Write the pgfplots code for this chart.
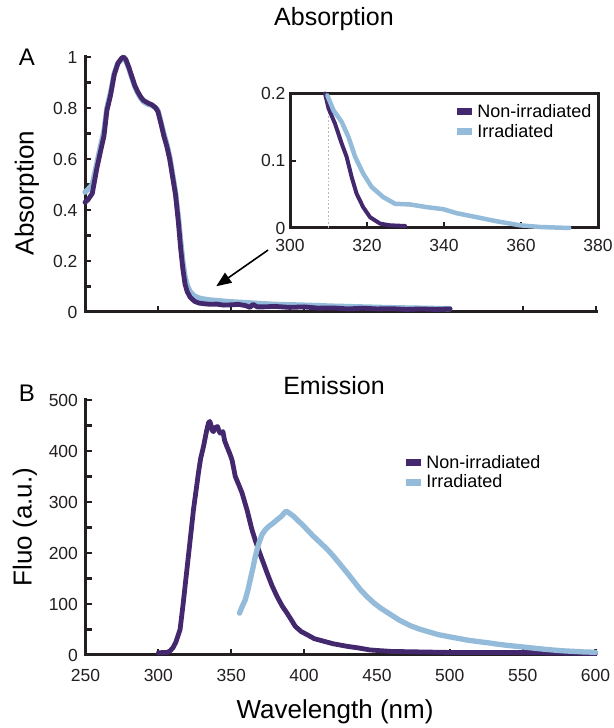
\documentclass[border=0pt]{standalone}
\usepackage{fontspec}
\setmainfont{Liberation Sans}
\usepackage{pgfplots}
\pgfplotsset{compat=1.18}
\usetikzlibrary{arrows.meta}
\definecolor{dpurple}{RGB}{68,40,110}
\definecolor{lblue}{RGB}{148,187,217}
\definecolor{axcol}{RGB}{35,31,32}

\pgfplotsset{
 myaxis/.style={
  scale only axis, anchor=south west,
  axis line style={axcol, line width=3pt, line cap=rect},
  tick style={axcol, line width=2.2pt},
  tick align=inside,
  major tick length=6pt, minor tick length=6pt,
  tick label style={font=\fontsize{17.5}{20}\selectfont, text=axcol},
  /pgf/number format/assume math mode=true,
  clip=false,
  legend cell align=left,
  legend image code/.code={\draw[#1, line width=7pt, line cap=butt] (0pt,0pt) -- (15pt,0pt);},
 },
 dline/.style={dpurple, line width=4.8pt, line join=round, line cap=round},
 lline/.style={lblue, line width=5.3pt, line join=round, line cap=round},
}

\begin{document}
\begin{tikzpicture}
\useasboundingbox (0,0) rectangle (613pt,728pt);

% ---------------- Panel A: Absorption ----------------
\begin{axis}[myaxis,
  at={(85pt,416pt)}, width=511pt, height=255pt,
  axis lines*=left,
  xmin=250, xmax=600, ymin=0, ymax=1,
  xtick={250,300,...,600}, xticklabels={},
  ytick={0,0.2,0.4,0.6,0.8,1}, minor y tick num=1,
  yticklabel style={xshift=-4pt},
]
\addplot[lline] coordinates {
(250,0.47) (252,0.48) (255,0.50) (258,0.58) (261,0.66) (263,0.71) (265,0.80)
(267.5,0.86) (270,0.935) (272.5,0.975) (275,0.99) (276.5,0.995) (278,0.985)
(280,0.955) (282,0.92) (284,0.885) (286,0.86) (288,0.84) (290,0.825) (293,0.815)
(296,0.81) (298.5,0.80) (300,0.79) (302,0.745) (304,0.70) (306,0.66) (308,0.61)
(310,0.54) (312,0.47) (314,0.37) (315.5,0.28) (317,0.20) (318.5,0.14) (320,0.105)
(322,0.08) (325,0.062) (328,0.055) (332,0.05) (336,0.047) (340,0.045) (350,0.04)
(360,0.037) (370,0.033) (380,0.03) (400,0.027) (420,0.023) (440,0.02) (460,0.017)
(480,0.015) (500,0.013)
};
\addplot[dline] coordinates {
(250,0.43) (252,0.44) (255,0.465) (258,0.56) (261,0.64) (263,0.69) (265,0.79)
(267.5,0.85) (270,0.93) (272.5,0.975) (275,0.995) (276.5,1.0) (278,0.99)
(280,0.96) (282,0.925) (284,0.89) (286,0.865) (288,0.845) (290,0.83) (293,0.82)
(296,0.812) (298.5,0.80) (300,0.785) (302,0.74) (304,0.69) (306,0.65) (308,0.60)
(310,0.53) (312,0.46) (314,0.35) (315.5,0.25) (317,0.17) (318.5,0.11) (320,0.08)
(322,0.058) (325,0.042) (328,0.035) (332,0.032) (336,0.030) (340,0.031) (345,0.027)
(350,0.028) (355,0.030) (360,0.025) (363,0.018) (365,0.03) (368,0.02) (372,0.02)
(380,0.022) (390,0.018) (400,0.02) (410,0.015) (420,0.016) (430,0.012) (440,0.015)
(450,0.012) (460,0.013) (470,0.01) (480,0.012) (490,0.01) (500,0.012)
};
\draw[-{Triangle[length=15pt,width=12pt]}, line width=1.6pt, black]
  (axis cs:375.4,0.243) -- (axis cs:339.9,0.101);
\end{axis}

% ---------------- Inset ----------------
\begin{axis}[myaxis,
  at={(290pt,500pt)}, width=308pt, height=134.5pt,
  xmin=300, xmax=380, ymin=0, ymax=0.2,
  xtick={300,320,...,380}, ytick={0,0.1,0.2},
  tick pos=left,
  yticklabel style={/pgf/number format/fixed, xshift=-1pt},
  xticklabel style={yshift=-8pt},
  legend style={draw=none, fill=none, font=\fontsize{18}{20}\selectfont,
    at={(0.52,0.95)}, anchor=north west, row sep=1pt},
]
\addplot[gray!55, dotted, line width=1.8pt, forget plot] coordinates {(310,0) (310,0.175)};
\addplot[dline, line width=4pt] coordinates {
(309.1,0.2) (310,0.178) (311.7,0.155) (313.4,0.126) (314.7,0.106) (316,0.076)
(317.3,0.051) (319,0.031) (320.8,0.016) (323.4,0.0065) (326,0.004) (329.9,0.003)
};
\addlegendentry{Non-irradiated}
\addplot[lline, line width=4.5pt] coordinates {
(309.7,0.197) (311.3,0.175) (313.4,0.158) (315.2,0.135) (316.9,0.106) (319,0.081)
(321.2,0.061) (324.2,0.046) (327.3,0.036) (331.2,0.035) (335.5,0.031) (339.8,0.028)
(343.3,0.022) (348.5,0.016) (353.7,0.010) (359.7,0.004) (364.9,0.0015) (372.5,0.0)
};
\addlegendentry{Irradiated}
\end{axis}

% ---------------- Panel B: Emission ----------------
\begin{axis}[myaxis,
  at={(85.5pt,73pt)}, width=510pt, height=255pt,
  axis lines*=left,
  xmin=250, xmax=600, ymin=0, ymax=500,
  xtick={250,300,...,600}, ytick={0,100,...,500}, minor y tick num=1,
  yticklabel style={xshift=-4pt},
  xticklabel style={yshift=-11pt},
  legend style={draw=none, fill=none, font=\fontsize{18}{20}\selectfont,
    at={(0.615,0.80)}, anchor=north west, row sep=1pt},
]
\addplot[dline] coordinates {
(300,4) (303,5) (306,5) (308,8) (310,14) (312,25) (314.9,50) (317,100) (319.5,165)
(322,230) (324.1,285) (326,325) (327.5,357) (329,385) (331,409) (333,438)
(334.4,455) (335.3,458) (336,452) (337,440) (337.8,438) (339,446) (340.6,448)
(341.5,440) (342.4,435) (344.3,438) (345.5,420) (347,409) (349,395) (350.5,383)
(352.8,350) (355,335) (357.4,318) (360.8,285) (364.2,246) (366.5,225) (368.8,206)
(371.5,185) (374.6,161) (378,136) (381.4,115) (385,96) (388.3,82) (391,70) (394,56)
(398,46) (402,40) (407,32) (413.5,27) (420,22) (429.6,17) (437,14) (445,10)
(452,8.5) (460,7) (470,6.5) (480,6) (500,5) (520,5) (550,5) (570,4) (585,3.5) (600,3)
};
\addlegendentry{Non-irradiated}
\addplot[lline] coordinates {
(355.7,82) (357.5,95) (359.6,108) (361.5,128) (363.1,148) (365,172) (366.5,193)
(368.5,215) (371.1,236) (373.5,246) (375.7,252) (378.5,258) (381.4,265) (384.5,272)
(386.5,279) (387.8,282) (390,278) (392.8,272) (396,263) (399,255) (402,246)
(406,234) (411.2,220) (416,207) (420.4,193) (425,177) (429.6,161) (434,145)
(438.7,128) (443,115) (447.9,102) (452.5,92) (459,80) (465,69) (472.5,58) (479,51)
(486,45) (492,40) (499.2,36) (505,33) (512.5,29) (519,26.5) (526,24) (532,21.5)
(539,19) (546,17) (552.6,15) (559,13) (566,11) (572,9.5) (579,8) (586,7) (592,6)
(598,5.5) (600,5)
};
\addlegendentry{Irradiated}
\end{axis}

% ---------------- Text ----------------
\node[font=\fontsize{25}{28}\selectfont] at (334pt,709pt) {Absorption};
\node[font=\fontsize{25}{28}\selectfont] at (334pt,342pt) {Emission};
\node[font=\fontsize{24}{28}\selectfont] at (27pt,671pt) {A};
\node[font=\fontsize{24}{28}\selectfont] at (27pt,335pt) {B};
\node[font=\fontsize{26}{30}\selectfont, rotate=90] at (27pt,535pt) {Absorption};
\node[font=\fontsize{26}{30}\selectfont, rotate=90] at (25pt,201pt) {Fluo (a.u.)};
\node[font=\fontsize{26}{30}\selectfont] at (335pt,16pt) {Wavelength (nm)};
\end{tikzpicture}
\end{document}
